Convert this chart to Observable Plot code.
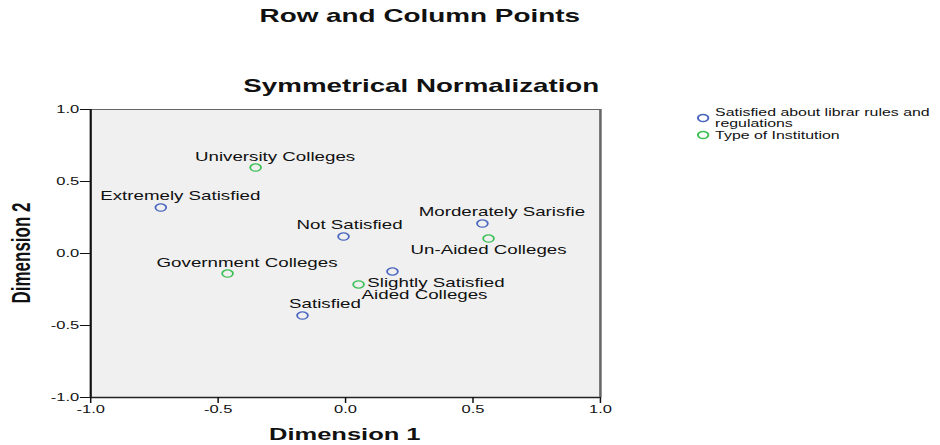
<!DOCTYPE html>
<html>
<head>
<meta charset="utf-8">
<script src="https://cdn.jsdelivr.net/npm/d3@7"></script>
<script src="https://cdn.jsdelivr.net/npm/@observablehq/plot@0.6"></script>
<style>
  body { margin: 0; background: #fff; }
  #chart svg { display: block; }
</style>
</head>
<body>
<div id="chart"></div>
<script>
// ---- data ----
const rowLabels = ["Extremely Satisfied", "Morderately Sarisfie", "Slightly Satisfied", "Not Satisfied", "Satisfied"];
const rowDim1 = [-0.725, 0.537, 0.184, -0.008, -0.169];
const rowDim2 = [0.319, 0.208, -0.125, 0.118, -0.431];

const colLabels = ["University Colleges", "Government Colleges", "Aided Colleges", "Un-Aided Colleges"];
const colDim1 = [-0.353, -0.463, 0.051, 0.561];
const colDim2 = [0.597, -0.139, -0.215, 0.104];

const seriesNames = ["Satisfied about librar rules and regulations", "Type of Institution"];
const axisTicks = [-1.0, -0.5, 0.0, 0.5, 1.0];

// ---- layout (label offsets in svg user units) ----
const rowLabelOffsets = [[13, -12], [13, -12], [29, 11], [4, -12], [15, -12]];
const colLabelOffsets = [[13, -11], [13, -11], [44, 11], [0, 11]];

const STRETCH = 1.5;           // reference is horizontally stretched
const W = 940, H = 445;
const userW = Math.round(W / STRETCH);
const FONT = "'Liberation Sans', Arial, sans-serif";
const BLUE = "#4a66c0", GREEN = "#3cbf55";

const rows = rowLabels.map((label, i) => ({label, d1: rowDim1[i], d2: rowDim2[i], series: seriesNames[0], off: rowLabelOffsets[i]}));
const cols = colLabels.map((label, i) => ({label, d1: colDim1[i], d2: colDim2[i], series: seriesNames[1], off: colLabelOffsets[i]}));
const points = rows.concat(cols);

const labelMarks = points.map(p => Plot.text([p], {
  x: "d1", y: "d2", text: "label",
  dx: p.off[0], dy: p.off[1],
  fontSize: 12.5, fill: "#111"
}));

const svg = Plot.plot({
  width: userW, height: H,
  marginLeft: 60, marginRight: userW - 400, marginTop: 109, marginBottom: 48,
  style: {fontFamily: FONT, fontSize: "11px", color: "#111", background: "transparent"},
  x: {domain: [-1, 1], label: null},
  y: {domain: [-1, 1], label: null},
  marks: [
    Plot.frame({fill: "#f0f0f0", stroke: "#666", strokeWidth: 1}),
    Plot.ruleX([-1], {stroke: "#111", strokeWidth: 1.4}),
    Plot.ruleY([-1], {stroke: "#222", strokeWidth: 1.4}),
    Plot.ruleX([1], {stroke: "#666", strokeWidth: 1.6}),
    Plot.axisX({ticks: axisTicks, tickFormat: d => d.toFixed(1), tickSize: 6, tickPadding: 2, label: null, fontSize: 11}),
    Plot.axisY({ticks: axisTicks, tickFormat: d => d.toFixed(1), tickSize: 6.7, tickPadding: 1, label: null, fontSize: 11}),
    Plot.dot(points, {
      x: "d1", y: "d2", r: 3.6, strokeWidth: 1.2,
      stroke: d => d.series === seriesNames[0] ? BLUE : GREEN, fill: "none"
    }),
    ...labelMarks
  ]
});

svg.setAttribute("width", W);
svg.setAttribute("height", H);
svg.setAttribute("preserveAspectRatio", "none");
svg.style.width = W + "px";
svg.style.height = H + "px";
svg.style.maxWidth = "none";

const s = d3.select(svg);
const cx = (60 + 400) / 2;

s.append("text").attr("x", 280).attr("y", 22).attr("text-anchor", "middle")
  .attr("font-family", FONT).attr("font-weight", "bold").attr("font-size", 18.6).attr("fill", "#111")
  .text("Row and Column Points");
s.append("text").attr("x", 281).attr("y", 92).attr("text-anchor", "middle")
  .attr("font-family", FONT).attr("font-weight", "bold").attr("font-size", 18.5).attr("fill", "#111")
  .text("Symmetrical Normalization");
s.append("text").attr("x", cx).attr("y", 440).attr("text-anchor", "middle")
  .attr("font-family", FONT).attr("font-weight", "bold").attr("font-size", 17).attr("fill", "#111")
  .text("Dimension 1");
s.append("text").attr("transform", `translate(20,253) rotate(-90)`).attr("text-anchor", "middle")
  .attr("font-family", FONT).attr("font-weight", "bold").attr("font-size", 17).attr("fill", "#111")
  .text("Dimension 2");

// legend
const lg = s.append("g").attr("font-family", FONT).attr("font-size", 10.6).attr("fill", "#111").attr("text-anchor", "start");
lg.append("circle").attr("cx", 469).attr("cy", 118).attr("r", 3.5).attr("fill", "none").attr("stroke", BLUE).attr("stroke-width", 1.3);
lg.append("text").attr("x", 477).attr("y", 116.5).text("Satisfied about librar rules and");
lg.append("text").attr("x", 477).attr("y", 127.5).text("regulations");
lg.append("circle").attr("cx", 469).attr("cy", 135).attr("r", 3.5).attr("fill", "none").attr("stroke", GREEN).attr("stroke-width", 1.3);
lg.append("text").attr("x", 477).attr("y", 139.5).text(seriesNames[1]);

document.getElementById("chart").appendChild(svg);
</script>
</body>
</html>
